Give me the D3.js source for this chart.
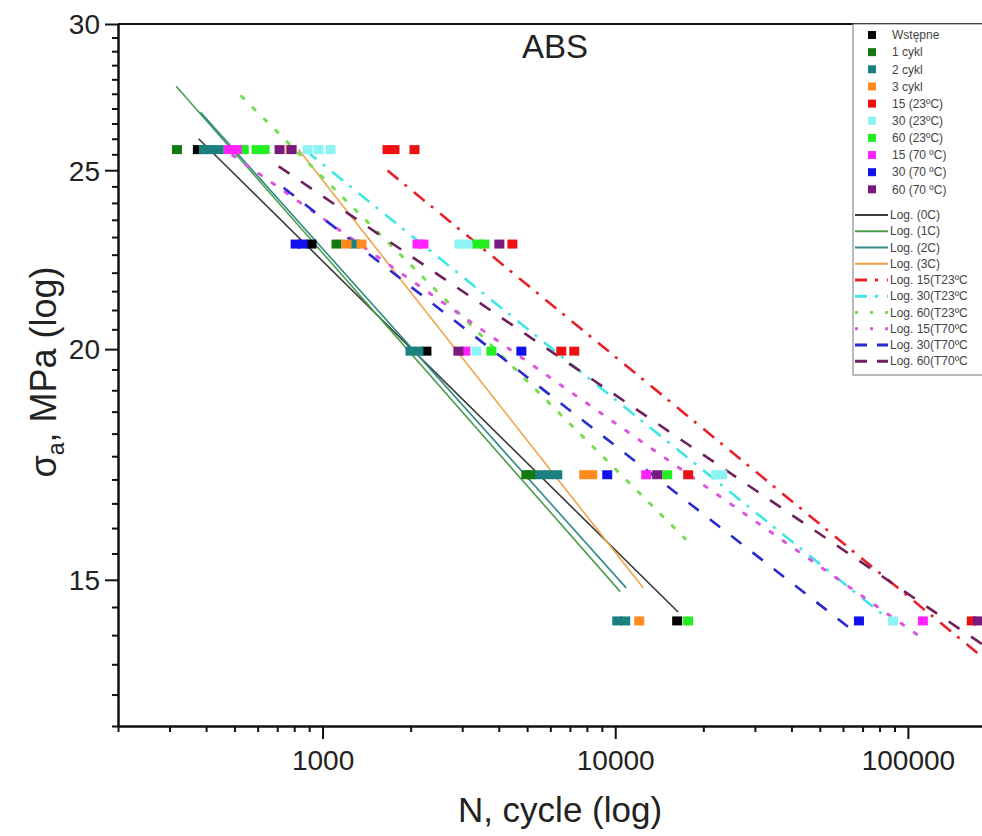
<!DOCTYPE html>
<html><head><meta charset="utf-8">
<script src="https://cdn.jsdelivr.net/npm/d3@7"></script>
<style>body{margin:0;background:#fff}svg{display:block;font-family:"Liberation Sans",Arial,sans-serif}</style>
</head><body><svg id="c" width="982" height="836"></svg>
<script>
// ---- data (stress amplitude MPa, cycles N) ----
const seriesNames = ["Wstępne","1 cykl","2 cykl","3 cykl","15 (23ºC)","30 (23ºC)","60 (23ºC)","15 (70 ºC)","30 (70 ºC)","60 (70 ºC)"];
const seriesColors = ["#000000","#137a13","#1a8080","#ff8a1e","#ee1111","#8cf4f4","#22ee22","#ff22ff","#1111ee","#7a1a7e"];
const ptsWstepne = [[25.65,375],[22.8,917],[19.95,2264],[14.25,16280]];
const pts1cykl = [[25.65,318],[22.8,1116],[17.1,4969],[17.1,5167]];
const pts2cykl = [[25.65,393],[25.65,415],[25.65,442],[22.8,1286],[19.95,1997],[19.95,2126],[17.1,5546],[17.1,5906],[17.1,6339],[14.25,10160],[14.25,10820]];
const pts3cykl = [[25.65,778],[22.8,1208],[22.8,1359],[17.1,7838],[17.1,8345],[14.25,12080]];
const pts15T23 = [[25.65,1667],[25.65,1761],[25.65,2061],[22.8,4452],[19.95,6541],[19.95,7244],[17.1,17750],[14.25,165300]];
const pts30T23 = [[25.65,889],[25.65,969],[25.65,1065],[22.8,2935],[22.8,3126],[19.95,3354],[17.1,22120],[17.1,23190],[14.25,88890]];
const pts60T23 = [[25.65,538],[25.65,595],[25.65,634],[22.8,3381],[22.8,3572],[19.95,3775],[17.1,15050],[14.25,17750]];
const pts15T70 = [[25.65,478],[25.65,509],[22.8,2110],[22.8,2212],[19.95,3076],[17.1,12758],[14.25,112500]];
const pts30T70 = [[22.8,809],[22.8,855],[19.95,4778],[17.1,9390],[14.25,68050]];
const pts60T70 = [[25.65,713],[25.65,784],[22.8,4019],[19.95,2912],[17.1,13910],[14.25,173400]];
const allPoints = [ptsWstepne,pts1cykl,pts2cykl,pts3cykl,pts15T23,pts30T23,pts60T23,pts15T70,pts30T70,pts60T70];

// trend lines: [[N, sigma],[N, sigma]]
const trendNames = ["Log. (0C)","Log. (1C)","Log. (2C)","Log. (3C)","Log. 15(T23ºC","Log. 30(T23ºC","Log. 60(T23ºC","Log. 15(T70ºC","Log. 30(T70ºC","Log. 60(T70ºC"];
const trendColors = ["#3a3a3a","#4a9e4a","#2f8a8a","#f2a24a","#e8202a","#3ee6e6","#77dd55","#dd55dd","#2a2ad0","#6e1f5e"];
const trend0C = [[377,26.0],[16400,14.41]];
const trend1C = [[316,27.76],[10400,14.78]];
const trend2C = [[383,26.87],[10900,14.85]];
const trend3C = [[828,25.65],[12460,14.85]];
const trend15T23 = [[1667,24.99],[182000,13.6]];
const trend30T23 = [[875,25.62],[86800,14.26]];
const trend60T23 = [[529,27.41],[17340,15.79]];
const trend15T70 = [[493,25.47],[108200,14.0]];
const trend30T70 = [[736,24.46],[66430,14.04]];
const trend60T70 = [[708,25.12],[182000,13.82]];
const allTrends = [trend0C,trend1C,trend2C,trend3C,trend15T23,trend30T23,trend60T23,trend15T70,trend30T70,trend60T70];
const trendDash = [null,null,null,null,"14,8,3,9","14,8,3,9","3,13","3,13","13,14","13,14"];
const trendWidth = [1.6,1.6,1.6,1.6,2.6,2.6,3,3,2.6,2.6];

const yMajor = [15,20,25,30];
const xMajor = [1000,10000,100000];

// ---- scales ----
const svg = d3.select("#c");
const x = d3.scaleLog().domain([200,200000]).range([118,996]);
const y = d3.scaleLog().domain([12.5,30]).range([726,24]);

svg.append("defs").append("clipPath").attr("id","clip")
  .append("rect").attr("x",118).attr("y",24).attr("width",864).attr("height",702);

// minor ticks
const yMinor = d3.range(12.5,30.01,0.5).filter(v=>!yMajor.includes(v));
const xMinor = [];
[100,1000,10000,100000].forEach(d=>{for(let k=2;k<=9;k++){const v=d*k; if(v>=200&&v<=200000&&!xMajor.includes(v)) xMinor.push(v);}});

const gy = svg.append("g").attr("transform","translate(118,0)");
gy.call(d3.axisLeft(y).tickValues(yMinor).tickSize(6).tickFormat("").tickSizeOuter(0));
const gy2 = svg.append("g").attr("transform","translate(118,0)");
gy2.call(d3.axisLeft(y).tickValues(yMajor).tickSize(13).tickFormat(d3.format("d")).tickSizeOuter(0));
const gx = svg.append("g").attr("transform","translate(0,726)");
gx.call(d3.axisBottom(x).tickValues(xMinor).tickSize(6).tickFormat("").tickSizeOuter(0));
const gx2 = svg.append("g").attr("transform","translate(0,726)");
gx2.call(d3.axisBottom(x).tickValues(xMajor).tickSize(13).tickFormat(d3.format("d")).tickSizeOuter(0));
svg.selectAll(".domain").attr("stroke","#111").attr("stroke-width",2);
svg.selectAll(".tick line").attr("stroke","#111").attr("stroke-width",2);
gy2.selectAll("text").attr("font-size",28).attr("fill","#222").attr("x",-18).attr("dy","0.35em").attr("font-family","Liberation Sans, Arial");
gx2.selectAll("text").attr("font-size",28).attr("fill","#222").attr("y",24).attr("dy","0.71em").attr("font-family","Liberation Sans, Arial");

// top border
svg.append("line").attr("x1",118).attr("x2",982).attr("y1",24).attr("y2",24).attr("stroke","#111").attr("stroke-width",2);

// plot content
const plot = svg.append("g").attr("clip-path","url(#clip)");
const line = d3.line().x(d=>x(d[0])).y(d=>y(d[1]));
allTrends.forEach((t,i)=>{
  plot.append("path").attr("d",line(t)).attr("fill","none")
    .attr("stroke",trendColors[i]).attr("stroke-width",trendWidth[i])
    .attr("stroke-dasharray",trendDash[i]).attr("stroke-linecap",(i===6||i===7)?"round":"butt");
});
const mw=10, mh=9;
allPoints.forEach((pts,i)=>{
  plot.selectAll(null).data(pts).enter().append("rect")
    .attr("x",d=>x(d[1])-mw/2).attr("y",d=>y(d[0])-mh/2)
    .attr("width",mw).attr("height",mh).attr("fill",seriesColors[i]);
});

// title
svg.append("text").attr("x",555).attr("y",58).attr("text-anchor","middle")
  .attr("font-size",33).attr("fill","#222").text("ABS");

// axis titles
svg.append("text").attr("x",560).attr("y",822).attr("text-anchor","middle")
  .attr("font-size",35).attr("fill","#222").text("N, cycle (log)");
const yl = svg.append("text").attr("transform","translate(56,372) rotate(-90)")
  .attr("text-anchor","middle").attr("font-size",36).attr("fill","#222");
yl.append("tspan").text("σ");
yl.append("tspan").attr("font-size",23).attr("dy",8).text("a");
yl.append("tspan").attr("dy",-8).text(", MPa (log)");

// legend
const lg = svg.append("g");
lg.append("rect").attr("x",853).attr("y",24).attr("width",140).attr("height",351)
  .attr("fill","#fff").attr("stroke","#777").attr("stroke-width",1);
seriesNames.forEach((n,i)=>{
  const yy = 35 + i*17.15;
  lg.append("rect").attr("x",868).attr("y",yy-4).attr("width",8).attr("height",8).attr("fill",seriesColors[i]);
  lg.append("text").attr("x",892).attr("y",yy).attr("dy","0.35em").attr("font-size",12).attr("fill","#444").text(n);
});
trendNames.forEach((n,i)=>{
  const yy = 215 + i*16.25;
  lg.append("line").attr("x1",855).attr("x2",888).attr("y1",yy).attr("y2",yy)
    .attr("stroke",trendColors[i]).attr("stroke-width",i<4?2:3)
    .attr("stroke-dasharray",trendDash[i]?(i===6||i===7?"3,12":(i>=8?"12,10":"12,8,3,9")):null);
  lg.append("text").attr("x",890).attr("y",yy).attr("dy","0.35em").attr("font-size",12).attr("fill","#444").text(n);
});
</script></body></html>
